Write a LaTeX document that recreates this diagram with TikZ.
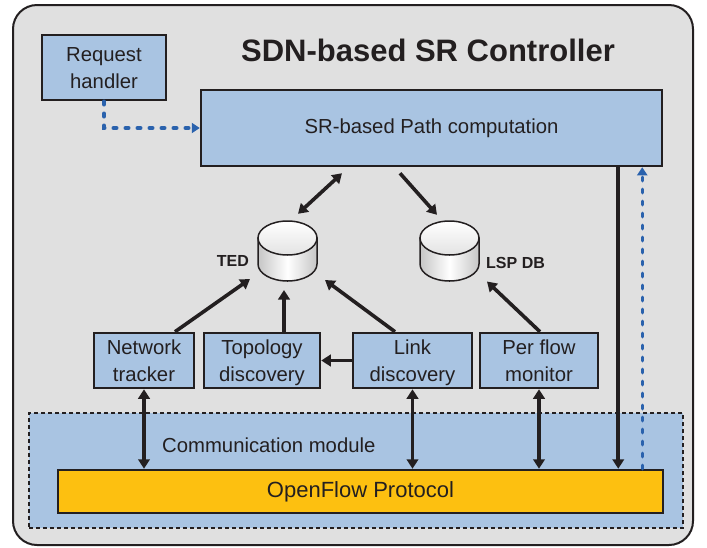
\documentclass[tikz,border=0pt]{standalone}
\usepackage{fontspec}
\setmainfont{Liberation Sans}
\usetikzlibrary{arrows.meta,calc}
\definecolor{bg}{HTML}{E0E0E0}
\definecolor{boxblue}{HTML}{A9C4E2}
\definecolor{ofyellow}{HTML}{FDC010}
\definecolor{dashblue}{HTML}{2A62AD}
\definecolor{ink}{HTML}{231F20}
\newcommand\mybstrut{\rule[-6pt]{0pt}{26pt}}
\begin{document}
\begin{tikzpicture}[x=1pt,y=-1pt,
  modbox/.style={draw=ink, line width=2.5pt, fill=boxblue, inner sep=0pt, text=ink,
    font=\fontsize{20.3}{25}\selectfont, align=center},
  conn/.style={draw=ink, line width=3.6pt, -{Triangle[length=9.5pt,width=11.5pt]}},
  dconn/.style={draw=ink, line width=3.6pt, {Triangle[length=9.5pt,width=11.5pt]}-{Triangle[length=9.5pt,width=11.5pt]}},
  bluedash/.style={draw=dashblue, line width=3.5pt, line cap=round, dash pattern=on 3.5pt off 8.5pt,
    -{Triangle[length=8pt,width=10pt]}},
  dblabel/.style={font=\bfseries\fontsize{16}{18}\selectfont, text=ink, inner sep=0pt},
  dbcyl/.pic={
    \shade[left color=gray!45, right color=gray!45, middle color=white, draw=ink, line width=1.5pt]
      (-29.5,-13) -- (-29.5,13) arc[start angle=180,end angle=0,x radius=29.5,y radius=17] -- (29.5,-13) -- cycle;
    \shade[top color=white, bottom color=gray!22, draw=ink, line width=1.5pt]
      (0,-13) ellipse[x radius=29.5, y radius=17];
  }
]
\useasboundingbox (0,0) rectangle (707,547);

% frame
\node[draw=ink, line width=2pt, fill=bg, rounded corners=24pt, minimum width=680pt, minimum height=540pt, inner sep=0pt] (frame) at (353,275) {};
\node[font=\bfseries\fontsize{31}{35}\selectfont, text=ink, inner sep=0pt] (title) at (428,50) {SDN-based SR Controller};

% communication module
\node[draw=ink, line width=2.5pt, dash pattern=on 4pt off 3pt, fill=boxblue, minimum width=654pt, minimum height=115pt, inner sep=0pt] (comm) at (356,470.5) {};
\node[anchor=west, text=ink, font=\fontsize{20.3}{24}\selectfont, inner sep=0pt] (commlabel) at (162,445) {Communication module};
\node[draw=ink, line width=2.5pt, fill=ofyellow, minimum width=605pt, minimum height=43pt, inner sep=0pt, text=ink, font=\fontsize{22}{26}\selectfont] (of) at (360.5,491.5) {OpenFlow Protocol};

% boxes
\node[modbox, minimum width=124pt, minimum height=65pt] (req) at (104,67.5) {\mybstrut Request\\handler\mybstrut};
\node[modbox, minimum width=461pt, minimum height=76pt] (sr) at (431.5,128) {SR-based Path computation};
\node[modbox, minimum width=100pt, minimum height=55pt] (nt) at (144,360.5) {\mybstrut Network\\tracker\mybstrut};
\node[modbox, minimum width=116pt, minimum height=55pt] (td) at (262,360.5) {\mybstrut Topology\\discovery\mybstrut};
\node[modbox, minimum width=119pt, minimum height=55pt] (ld) at (412.5,360.5) {\mybstrut Link\\discovery\mybstrut};
\node[modbox, minimum width=118pt, minimum height=55pt] (pfm) at (539,360.5) {\mybstrut Per flow\\monitor\mybstrut};

% databases
\pic at (287.5,251) {dbcyl};
\node[minimum width=59pt, minimum height=60pt, inner sep=0pt] (ted) at (287.5,251) {};
\pic at (449.5,251) {dbcyl};
\node[minimum width=61pt, minimum height=60pt, inner sep=0pt] (lsp) at (449.5,251) {};
\node[dblabel, anchor=east] (tedlabel) at (249,261) {TED};
\node[dblabel, anchor=west] (lsplabel) at (486,263) {LSP DB};

% connectors
\draw[dconn] ([shift={(-89.5,6)}]sr.south) -- ([shift={(10.5,-7)}]ted.north);
\draw[conn] ([shift={(-31.5,6)}]sr.south) -- ([shift={(-12.5,-6)}]lsp.north);
\draw[conn] ([shift={(31,0)}]nt.north) -- ([shift={(-37.5,28)}]ted.center);
\draw[conn] ([shift={(22,0)}]td.north) -- ([shift={(-3.5,39)}]ted.center);
\draw[conn] ([shift={(-17.5,0)}]ld.north) -- ([shift={(37.5,29)}]ted.center);
\draw[conn] (ld.west) -- (td.east);
\draw[conn] ([shift={(1,0)}]pfm.north) -- ([shift={(37.5,30.5)}]lsp.center);

\draw[dconn] (nt.south) -- (nt.south |- of.north);
\draw[dconn] (ld.south) -- (ld.south |- of.north);
\draw[dconn] (pfm.south) -- (pfm.south |- of.north);

\coordinate (srdown) at ([shift={(-45,0)}]sr.south east);
\coordinate (blueup) at ([shift={(-21,0)}]sr.south east);
\draw[conn] (srdown) -- (srdown |- of.north);
\draw[bluedash] (blueup |- of.north) -- (blueup);
\draw[bluedash] (req.south) |- (sr.west);
\end{tikzpicture}
\end{document}
